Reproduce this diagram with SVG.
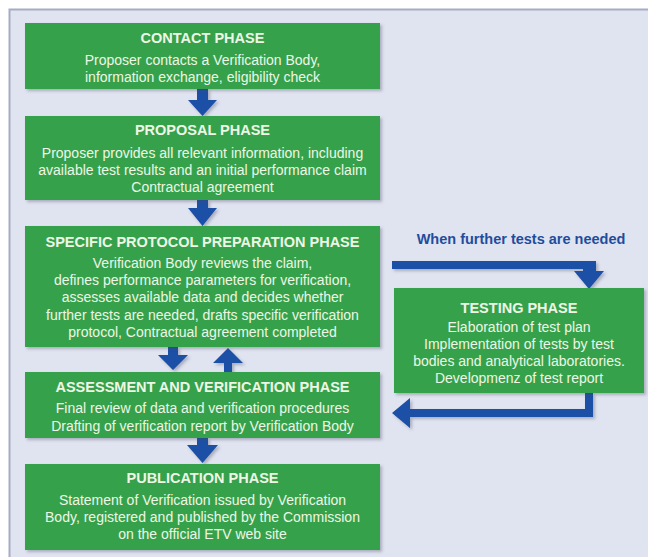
<svg xmlns="http://www.w3.org/2000/svg" width="648" height="557" viewBox="0 0 648 557">
<defs>
<style>
.box{fill:#34a24b;}
.hd{font-family:"Liberation Sans",Arial,sans-serif;font-size:14.5px;font-weight:bold;fill:#eef6e6;text-anchor:middle;}
.tx{font-family:"Liberation Sans",Arial,sans-serif;font-size:14px;fill:#eef6e6;text-anchor:middle;}
.arr{fill:#1d4fa6;}
.lbl{font-family:"Liberation Sans",Arial,sans-serif;font-size:14.5px;font-weight:bold;fill:#1f4d9c;text-anchor:middle;}
</style>
<filter id="sh" x="-10%" y="-10%" width="130%" height="130%">
<feDropShadow dx="2" dy="2" stdDeviation="1.5" flood-color="#404860" flood-opacity="0.35"/>
</filter>
</defs>
<rect x="0" y="0" width="648" height="557" fill="#ffffff"/>
<rect x="9.5" y="9.5" width="700" height="600" fill="#e0e3f0" stroke="#a7acc3" stroke-width="2"/>

<g id="connectors" filter="url(#sh)">
<path class="arr" d="M197,89 V100 H188 L202.5,116 L217,100 H208 V89 Z"/>
<path class="arr" d="M197,200 V208 H188 L202.5,226 L217,208 H208 V200 Z"/>
<path class="arr" d="M168,347 V355 H158 L173,370 L188,355 H178 V347 Z"/>
<path class="arr" d="M224,372 V363 H213 L228,348 L243,363 H232 V372 Z"/>
<path class="arr" d="M197,438 V445 H187 L202.5,463 L218,445 H208 V438 Z"/>
<path class="arr" d="M392,261 H596 V271 H604 L589,289 L574,271 H583 V269 H392 Z"/>
<path class="arr" d="M593,393 V417 H410 V428 L392,413 L410,398 V409 H585 V393 Z"/>
</g>

<text class="lbl" x="521" y="244">When further tests are needed</text>

<g id="contact">
<rect class="box" x="25" y="23" width="355" height="66" filter="url(#sh)"/>
<text class="hd" x="202.5" y="43">CONTACT PHASE</text>
<text class="tx" x="202.5" y="65">Proposer contacts a Verification Body,</text>
<text class="tx" x="202.5" y="82">information exchange, eligibility check</text>
</g>

<g id="proposal">
<rect class="box" x="25" y="116" width="355" height="84" filter="url(#sh)"/>
<text class="hd" x="202.5" y="135">PROPOSAL PHASE</text>
<text class="tx" x="202.5" y="158">Proposer provides all relevant information, including</text>
<text class="tx" x="202.5" y="175">available test results and an initial performance claim</text>
<text class="tx" x="202.5" y="192">Contractual agreement</text>
</g>

<g id="protocol">
<rect class="box" x="25" y="226" width="355" height="121" filter="url(#sh)"/>
<text class="hd" x="202.5" y="246.5">SPECIFIC PROTOCOL PREPARATION PHASE</text>
<text class="tx" x="202.5" y="268">Verification Body reviews the claim,</text>
<text class="tx" x="202.5" y="285">defines performance parameters for verification,</text>
<text class="tx" x="202.5" y="302">assesses available data and decides whether</text>
<text class="tx" x="202.5" y="319.5">further tests are needed, drafts specific verification</text>
<text class="tx" x="202.5" y="337">protocol, Contractual agreement completed</text>
</g>

<g id="assessment">
<rect class="box" x="25" y="372" width="355" height="66" filter="url(#sh)"/>
<text class="hd" x="202.5" y="392">ASSESSMENT AND VERIFICATION PHASE</text>
<text class="tx" x="202.5" y="413">Final review of data and verification procedures</text>
<text class="tx" x="202.5" y="431">Drafting of verification report by Verification Body</text>
</g>

<g id="publication">
<rect class="box" x="25" y="464" width="355" height="86" filter="url(#sh)"/>
<text class="hd" x="202.5" y="483">PUBLICATION PHASE</text>
<text class="tx" x="202.5" y="505">Statement of Verification issued by Verification</text>
<text class="tx" x="202.5" y="522">Body, registered and published by the Commission</text>
<text class="tx" x="202.5" y="539">on the official ETV web site</text>
</g>

<g id="testing">
<rect class="box" x="394" y="288" width="250" height="105" filter="url(#sh)"/>
<text class="hd" x="519" y="313">TESTING PHASE</text>
<text class="tx" x="519" y="332">Elaboration of test plan</text>
<text class="tx" x="519" y="349">Implementation of tests by test</text>
<text class="tx" x="519" y="366">bodies and analytical laboratories.</text>
<text class="tx" x="519" y="383">Developmenz of test report</text>
</g>
</svg>
